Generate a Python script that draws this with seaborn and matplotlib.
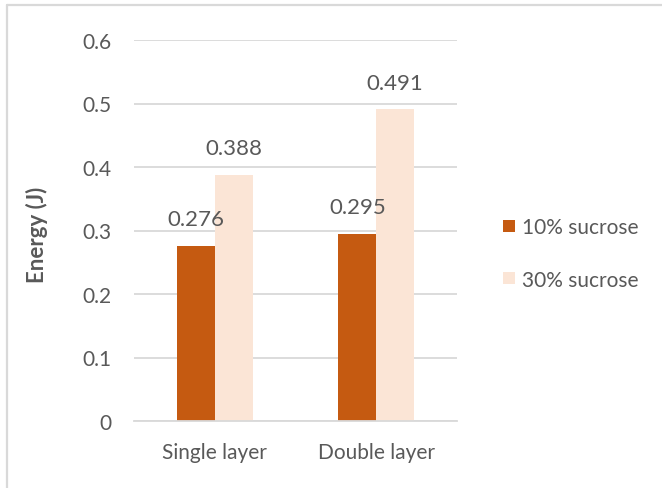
import matplotlib
matplotlib.use("Agg")
import matplotlib.pyplot as plt
import seaborn as sns
import pandas as pd
from matplotlib.lines import Line2D

# Data
layers = ["Single layer", "Double layer"]
concentrations = ["10% sucrose", "30% sucrose"]
energy_10 = [0.276, 0.295]
energy_30 = [0.388, 0.491]
y_ticks = [0, 0.1, 0.2, 0.3, 0.4, 0.5, 0.6]
y_tick_labels = ["0", "0.1", "0.2", "0.3", "0.4", "0.5", "0.6"]

df = pd.DataFrame({
    "Layer": layers * 2,
    "Sucrose": [concentrations[0]] * 2 + [concentrations[1]] * 2,
    "Energy": energy_10 + energy_30,
})

sns.set_theme(style="white")
plt.rcParams["font.family"] = ["Lato", "DejaVu Sans"]

text_color = "#595959"
grid_color = "#d9d9d9"
palette = {concentrations[0]: "#c55a11", concentrations[1]: "#fbe5d6"}

fig = plt.figure(figsize=(6.62, 4.89), dpi=100)
ax = fig.add_axes([134 / 662, 1 - 422 / 489, 323 / 662, 381 / 489])

sns.barplot(data=df, x="Layer", y="Energy", hue="Sucrose", order=layers,
            hue_order=concentrations, palette=palette, width=0.47,
            saturation=1, ax=ax, legend=False, linewidth=0)

ax.set_ylim(0, 0.6)
ax.set_xlim(-0.5, 1.5)
ax.set_yticks(y_ticks)
ax.set_yticklabels(y_tick_labels)
ax.yaxis.grid(True, color=grid_color, linewidth=1.3)
ax.set_axisbelow(True)
for side in ["left", "right", "top"]:
    ax.spines[side].set_visible(False)
ax.spines["bottom"].set_color(grid_color)
ax.spines["bottom"].set_linewidth(1.3)

ax.tick_params(axis="y", length=0, pad=16, labelsize=15, labelcolor=text_color)
ax.tick_params(axis="x", length=0, pad=15, labelsize=15, labelcolor=text_color)
ax.set_xlabel("")
ax.set_ylabel("Energy (J)", fontsize=16, fontweight="bold", color=text_color)
ax.yaxis.label.set_va("center")
ax.yaxis.set_label_coords(-0.30, 0.49)

# Value labels above each bar
for container, values in zip(ax.containers, [energy_10, energy_30]):
    ax.bar_label(container, labels=[f"{v:.3f}" for v in values], padding=12,
                 fontsize=16, color=text_color)

# Legend
handles = [Line2D([0], [0], marker="s", linestyle="none", markersize=9,
                  markerfacecolor=palette[c], markeredgewidth=0)
           for c in concentrations]
fig.legend(handles, concentrations, loc="center left",
           bbox_to_anchor=(503 / 662, 1 - 254.5 / 489), frameon=False,
           fontsize=15, labelcolor=text_color, handlelength=0.6,
           handletextpad=0.3, labelspacing=1.55, borderpad=0,
           borderaxespad=0)

# Outer frame lines along the left and top edges
fig.add_artist(Line2D([7 / 662, 7 / 662], [0, 1 - 6 / 489],
                      transform=fig.transFigure, color=grid_color, linewidth=1.6))
fig.add_artist(Line2D([7 / 662, 1], [1 - 6 / 489, 1 - 6 / 489],
                      transform=fig.transFigure, color=grid_color, linewidth=1.6))

fig.savefig("out.png", dpi=100)
